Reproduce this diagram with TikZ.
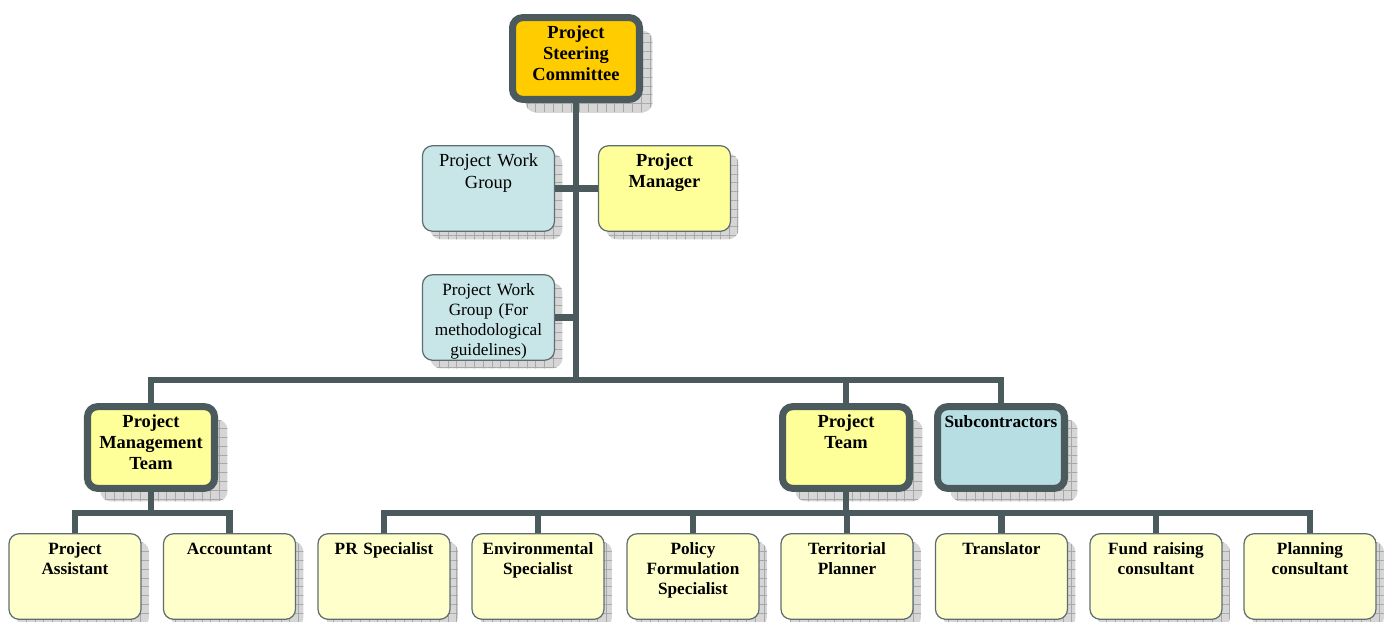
\documentclass[tikz,border=0pt]{standalone}
\usepackage{fontspec}
\setmainfont{Liberation Serif}
\usetikzlibrary{shadows,patterns.meta}
\definecolor{gold}{HTML}{FFCC00}
\definecolor{lemon}{HTML}{FFFF99}
\definecolor{cream}{HTML}{FFFFCC}
\definecolor{paleblue}{HTML}{C8E6E8}
\definecolor{seablue}{HTML}{B7DEE2}
\definecolor{slate}{HTML}{4B5A5D}
\definecolor{edgegray}{HTML}{5E6E70}
\definecolor{shadowgray}{HTML}{D6D6D6}
\definecolor{gridgray}{HTML}{A8A8A8}

\begin{document}
\begin{tikzpicture}[x=0.02cm, y=-0.02cm,
        conn/.style={line width=3.6pt, draw=slate},
        gridshadow/.style={general shadow={shadow xshift=#1, shadow yshift=-#1,
            fill=shadowgray, opacity=1},
            general shadow={shadow xshift=#1, shadow yshift=-#1, opacity=1,
            pattern={Hatch[distance=5pt, line width=0.5pt]}, pattern color=gridgray}},
        thinbox/.style={rounded corners=0.2cm, draw=edgegray, line width=0.7pt,
            text width=2.4cm, inner xsep=0.12cm, inner ysep=0.1cm, align=center,
            text height=9pt, text depth=34pt, gridshadow=0.16cm},
        thickbox/.style={rounded corners=0.2cm, draw=slate, line width=4pt,
            text width=2.34cm, inner xsep=0.1cm, inner ysep=0.1cm, align=center,
            text height=9pt, text depth=31.8pt, gridshadow=0.26cm},
        headtext/.style={font=\fontsize{10.5}{12}\selectfont\bfseries},
        headplain/.style={font=\fontsize{10.5}{12.5}\selectfont},
        smalltext/.style={font=\fontsize{9.8}{11.3}\selectfont\bfseries},
        smallplain/.style={font=\fontsize{9.8}{11.3}\selectfont}]
    \useasboundingbox (0,0) rectangle (1390,622);

    \node [thickbox, fill=gold, headtext] (psc) at (576,58.5) {Project\\Steering\\Committee};
    \node [thinbox, fill=paleblue, headplain] (pwg) at (488.5,188.5) {Project Work\\Group};
    \node [thinbox, fill=lemon, headtext] (pm) at (664.5,188.5) {Project\\Manager};
    \node [thinbox, fill=paleblue, smallplain] (pwgm) at (488.5,317.5)
        {Project Work\\Group (For\\methodological\\guidelines)};
    \node [thickbox, fill=lemon, headtext] (pmt) at (151,447.5) {Project\\Management\\Team};
    \node [thickbox, fill=lemon, headtext] (pt) at (846,447.5) {Project\\Team};
    \node [thickbox, fill=seablue, smalltext] (subc) at (1001,447.5) {Subcontractors};

    \foreach \x/\n/\t in {75/asst/{Project\\Assistant}, 229.5/acct/Accountant,
            384/pr/PR Specialist, 538/env/{Environmental\\Specialist},
            693/pol/{Policy\\Formulation\\Specialist}, 847/terr/{Territorial\\Planner},
            1001.5/trans/Translator, 1156/fund/{Fund raising\\consultant},
            1310/plan/{Planning\\consultant}}
        \node [thinbox, fill=cream, smalltext] (\n) at (\x,576.5) {\t};

    \coordinate (hub) at (576,380);
    \coordinate (lowbus) at (0,513);

    \draw [conn] (psc.south) -- (hub);
    \draw [conn] (pwg) -- (pm);
    \draw [conn] (pwgm.east) -- (pwgm.east -| hub);
    \draw [conn] (pmt.north) |- (hub) -| (subc.north);
    \draw [conn] (pt.north) -- (pt.north |- hub);
    \draw [conn] (asst.north) |- (lowbus -| pmt.south) -| (acct.north);
    \draw [conn] (pmt.south) -- (lowbus -| pmt.south);
    \draw [conn] (pr.north) |- (lowbus -| pt.south) -| (plan.north);
    \draw [conn] (pt.south) -- (lowbus -| pt.south);
    \foreach \n in {env,pol,terr,trans,fund}
        \draw [conn] (\n.north) -- (\n.north |- lowbus);
\end{tikzpicture}
\end{document}
